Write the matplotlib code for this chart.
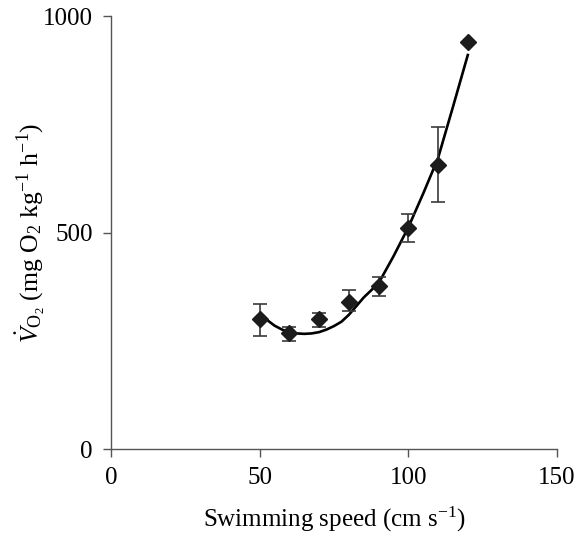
import matplotlib
matplotlib.use("Agg")
import matplotlib.pyplot as plt
import numpy as np

# measured points (mean +/- error)
speed = [50, 60, 70, 80, 90, 100, 110, 120]
vo2 = [300, 268, 300, 340, 376, 510, 656, 940]
err_lo = [39, 19, 18, 21, 23, 32, 86, 0]
err_hi = [35, 14, 14, 27, 21, 33, 88, 0]

# fitted curve
fit_speed = [50, 52.5, 55, 57.5, 60, 62.5, 65, 67.5, 70, 72.5, 75, 77.5,
             80, 85, 90, 95, 100, 105, 110, 115, 120]
fit_vo2 = [310, 298, 285, 276, 270, 267, 266, 267, 270, 276, 284, 294,
           310, 350, 383, 445, 512, 590, 672, 790, 910]

plt.rcParams["font.family"] = ["Liberation Serif", "DejaVu Serif"]
plt.rcParams["mathtext.fontset"] = "custom"
plt.rcParams["mathtext.rm"] = "Liberation Serif"
plt.rcParams["mathtext.it"] = "Liberation Serif:italic"

fig = plt.figure(figsize=(5.76, 5.35), dpi=100)
ax = fig.add_axes([0.1927, 0.1607, 0.7743, 0.8093])

ax.plot(fit_speed, fit_vo2, color="black", lw=1.9, zorder=2)
ax.errorbar(speed, vo2, yerr=[err_lo, err_hi], fmt="D", color="#1c1c1c",
            ecolor="#3a3a3a", elinewidth=1.2, capsize=5, capthick=1.2,
            markersize=8.5, zorder=3)

ax.set_xlim(0, 150)
ax.set_ylim(0, 1000)
ax.set_xticks([0, 50, 100, 150])
ax.set_yticks([0, 500, 1000])
for side in ["top", "right"]:
    ax.spines[side].set_visible(False)
for side in ["left", "bottom"]:
    ax.spines[side].set_color("#555555")
    ax.spines[side].set_linewidth(1.0)
ax.tick_params(direction="out", length=6, width=1.0, color="#555555",
               labelsize=18, pad=7)

ax.set_xlabel(r"Swimming speed (cm s$^{-1}$)", fontsize=18, labelpad=11)
ax.set_ylabel(r"$\dot{V}_{\mathrm{O_2}}$ (mg O$_2$ kg$^{-1}$ h$^{-1}$)",
              fontsize=18.5, labelpad=-3)

fig.savefig("out.png", dpi=100)
